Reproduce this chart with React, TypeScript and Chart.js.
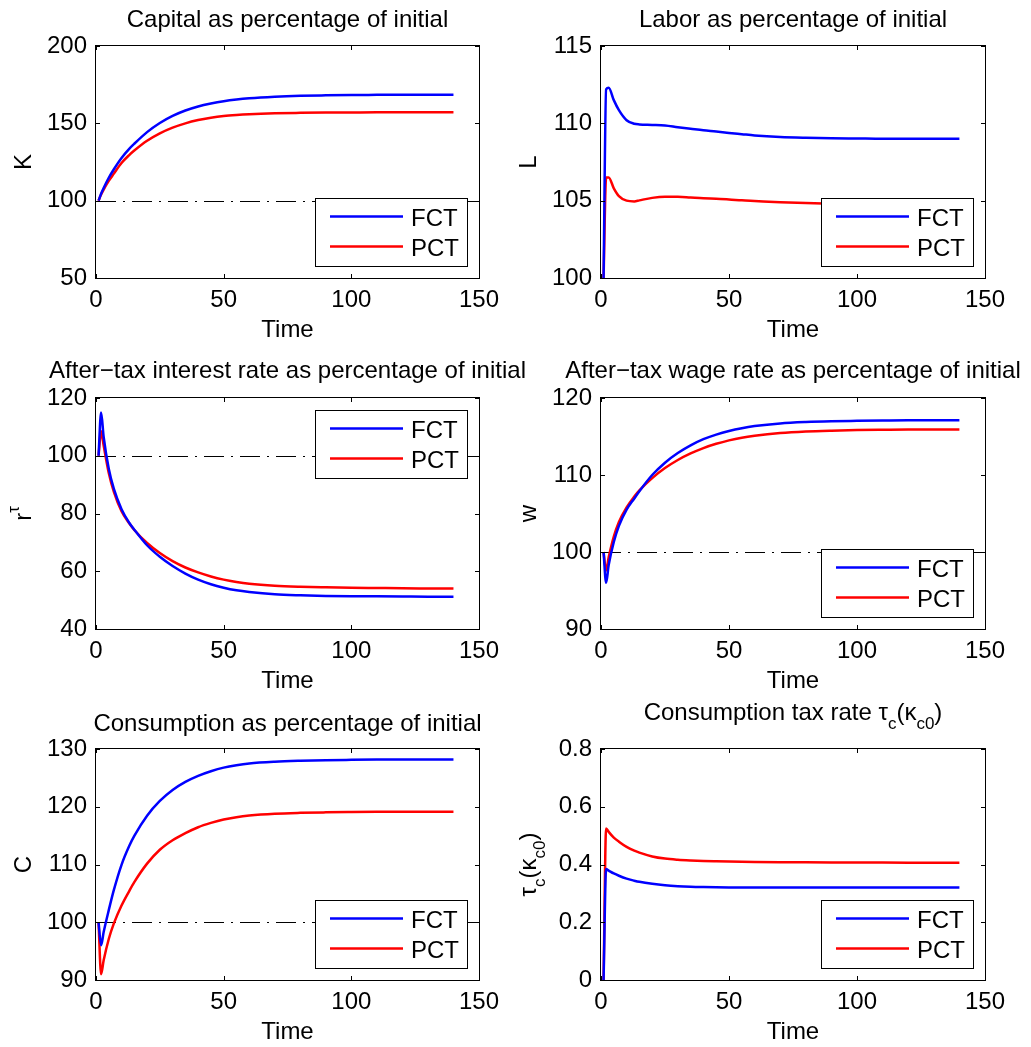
import React, { useEffect, useRef } from 'react';
import { Chart, registerables } from 'chart.js';

Chart.register(...registerables);

const FONT = '"Liberation Sans", Arial, Helvetica, sans-serif';

// ---------------- data ----------------
const TIME = [1, 2, 3, 5, 7, 10, 13, 15, 20, 25, 30, 35, 40, 45, 50, 55, 60, 70, 80, 90, 100, 110, 120, 130, 140];
const X_TICKS = [0, 50, 100, 150];
const SERIES_LABELS = ['FCT', 'PCT'];
const SERIES_COLORS = ['#0000ff', '#ff0000'];

const CAPITAL_FCT = [100, 104.5, 108.2, 114.8, 120.3, 127.6, 133.5, 136.8, 144.3, 150.2, 154.8, 158.3, 160.9, 162.8, 164.3, 165.4, 166.2, 167.2, 167.8, 168.1, 168.3, 168.4, 168.5, 168.5, 168.5];
const CAPITAL_PCT = [100, 104, 107.2, 112.8, 117.5, 124.4, 129.5, 132.4, 138.7, 143.5, 147.2, 150, 152.1, 153.6, 154.7, 155.4, 155.9, 156.5, 156.8, 157, 157.05, 157.1, 157.1, 157.1, 157.1];
const CAPITAL_TICKS = [50, 100, 150, 200];

const LABOR_FCT = [100, 112.2, 112.3, 111.5, 110.85, 110.2, 109.97, 109.93, 109.9, 109.86, 109.75, 109.65, 109.55, 109.47, 109.38, 109.3, 109.22, 109.12, 109.07, 109.04, 109.02, 109.0, 109.0, 109.0, 109.0];
const LABOR_PCT = [100, 106.5, 106.5, 105.8, 105.3, 105.0, 104.95, 105.02, 105.18, 105.25, 105.25, 105.2, 105.15, 105.12, 105.08, 105.02, 104.98, 104.9, 104.85, 104.8, 104.75, 104.72, 104.7, 104.68, 104.65];
const LABOR_TICKS = [100, 105, 110, 115];

const INTEREST_FCT = [100, 115, 106.5, 95.5, 88.5, 81.5, 76.8, 74.4, 69.0, 65.0, 61.8, 59.2, 57.1, 55.5, 54.3, 53.4, 52.8, 52.0, 51.65, 51.45, 51.35, 51.3, 51.25, 51.2, 51.2];
const INTEREST_PCT = [100, 108.5, 103.5, 94, 87.5, 80.8, 76.6, 74.3, 69.8, 66.3, 63.5, 61.3, 59.6, 58.2, 57.1, 56.3, 55.7, 55, 54.65, 54.45, 54.3, 54.2, 54.1, 54.05, 54.0];
const INTEREST_TICKS = [40, 60, 80, 100, 120];

const WAGE_FCT = [100, 96, 98.3, 101.3, 103.4, 105.5, 106.95, 107.9, 110.0, 111.6, 112.85, 113.85, 114.65, 115.25, 115.72, 116.08, 116.35, 116.7, 116.88, 116.98, 117.03, 117.07, 117.1, 117.1, 117.1];
const WAGE_PCT = [100, 97.6, 99.3, 102, 103.9, 105.8, 107.2, 108.0, 109.6, 110.9, 111.95, 112.8, 113.5, 114.05, 114.5, 114.85, 115.1, 115.45, 115.65, 115.76, 115.83, 115.87, 115.9, 115.9, 115.9];
const WAGE_TICKS = [90, 100, 110, 120];

const CONS_FCT = [100, 96, 98.3, 102.1, 105.6, 109.95, 113.2, 114.95, 118.45, 121.0, 122.9, 124.3, 125.35, 126.15, 126.78, 127.2, 127.5, 127.8, 127.96, 128.06, 128.12, 128.17, 128.2, 128.2, 128.2];
const CONS_PCT = [100, 91, 93.4, 97.1, 99.8, 102.9, 105.4, 106.95, 110.15, 112.55, 114.2, 115.42, 116.45, 117.2, 117.8, 118.2, 118.48, 118.8, 118.95, 119.03, 119.08, 119.12, 119.14, 119.15, 119.15];
const CONS_TICKS = [90, 100, 110, 120, 130];

const TAX_FCT = [0, 0.384, 0.379, 0.369, 0.361, 0.351, 0.344, 0.34, 0.333, 0.328, 0.3248, 0.3228, 0.3217, 0.321, 0.3206, 0.3204, 0.3202, 0.32, 0.32, 0.32, 0.32, 0.32, 0.32, 0.32, 0.32];
const TAX_PCT = [0, 0.525, 0.513, 0.493, 0.479, 0.461, 0.448, 0.441, 0.428, 0.4205, 0.4165, 0.414, 0.4122, 0.411, 0.41, 0.4093, 0.4088, 0.408, 0.4074, 0.407, 0.4067, 0.4065, 0.4063, 0.4061, 0.406];
const TAX_TICKS = [0, 0.2, 0.4, 0.6, 0.8];

// ---------------- layout ----------------
type Seg = { t: string; s?: 'sub' | 'sup' };
type PanelDef = {
  title: Seg[];
  ylabel: Seg[];
  fct: number[];
  pct: number[];
  yTicks: number[];
  ref: number | null;
  legendPos: 'ne' | 'se';
  col: number;
  row: number;
  titleGap: number;
};

const COLS = [
  { left: 0, width: 540, padRight: 61 },
  { left: 505, width: 526, padRight: 46 },
];
const ROWS = [
  { top: 0, height: 350, padTop: 46, xH: 72 },
  { top: 350, height: 350, padTop: 48, xH: 71 },
  { top: 700, height: 347, padTop: 49, xH: 67 },
];
const Y_AXIS_W = 96;
const MAIN = 24;
const SMALL = 17;

const PANELS: PanelDef[] = [
  { title: [{ t: 'Capital as percentage of initial' }], ylabel: [{ t: 'K' }], fct: CAPITAL_FCT, pct: CAPITAL_PCT, yTicks: CAPITAL_TICKS, ref: 100, legendPos: 'se', col: 0, row: 0, titleGap: 19.5 },
  { title: [{ t: 'Labor as percentage of initial' }], ylabel: [{ t: 'L' }], fct: LABOR_FCT, pct: LABOR_PCT, yTicks: LABOR_TICKS, ref: 100, legendPos: 'se', col: 1, row: 0, titleGap: 19.5 },
  { title: [{ t: 'After\u2212tax interest rate as percentage of initial' }], ylabel: [{ t: 'r' }, { t: '\u03c4', s: 'sup' }], fct: INTEREST_FCT, pct: INTEREST_PCT, yTicks: INTEREST_TICKS, ref: 100, legendPos: 'ne', col: 0, row: 1, titleGap: 20 },
  { title: [{ t: 'After\u2212tax wage rate as percentage of initial' }], ylabel: [{ t: 'w' }], fct: WAGE_FCT, pct: WAGE_PCT, yTicks: WAGE_TICKS, ref: 100, legendPos: 'se', col: 1, row: 1, titleGap: 20 },
  { title: [{ t: 'Consumption as percentage of initial' }], ylabel: [{ t: 'C' }], fct: CONS_FCT, pct: CONS_PCT, yTicks: CONS_TICKS, ref: 100, legendPos: 'se', col: 0, row: 2, titleGap: 18.5 },
  { title: [{ t: 'Consumption tax rate \u03c4' }, { t: 'c', s: 'sub' }, { t: '(\u03ba' }, { t: 'c0', s: 'sub' }, { t: ')' }], ylabel: [{ t: '\u03c4' }, { t: 'c', s: 'sub' }, { t: '(\u03ba' }, { t: 'c0', s: 'sub' }, { t: ')' }], fct: TAX_FCT, pct: TAX_PCT, yTicks: TAX_TICKS, ref: null, legendPos: 'se', col: 1, row: 2, titleGap: 29 },
];

function segFont(s: Seg) {
  return `${s.s ? SMALL : MAIN}px ${FONT}`;
}
function segShift(s: Seg) {
  return s.s === 'sub' ? 9 : s.s === 'sup' ? -12 : 0;
}
function richWidth(ctx: CanvasRenderingContext2D, segs: Seg[]) {
  let w = 0;
  for (const s of segs) {
    ctx.font = segFont(s);
    w += ctx.measureText(s.t).width;
  }
  return w;
}
function drawRich(ctx: CanvasRenderingContext2D, segs: Seg[], cx: number, baseline: number) {
  const w = richWidth(ctx, segs);
  let x = cx - w / 2;
  ctx.textAlign = 'left';
  ctx.textBaseline = 'alphabetic';
  ctx.fillStyle = '#000';
  for (const s of segs) {
    ctx.font = segFont(s);
    ctx.fillText(s.t, x, baseline + segShift(s));
    x += ctx.measureText(s.t).width;
  }
}

function makeDecor(p: PanelDef) {
  return {
    id: 'matlabDecor',
    beforeDatasetsDraw(chart: any) {
      if (p.ref === null) return;
      const { ctx, chartArea } = chart;
      const y = Math.round(chart.scales.y.getPixelForValue(p.ref)) + 0.5;
      ctx.save();
      ctx.strokeStyle = '#000';
      ctx.lineWidth = 1;
      ctx.setLineDash([20, 7, 2, 7]);
      ctx.beginPath();
      ctx.moveTo(chartArea.left, y);
      ctx.lineTo(chartArea.right, y);
      ctx.stroke();
      ctx.restore();
    },
    afterDraw(chart: any) {
      const { ctx, chartArea } = chart;
      const { left, right, top, bottom } = chartArea;
      ctx.save();
      // legend
      const LW = 152;
      const LH = 68;
      const lx = Math.round(right - 12 - LW);
      const ly = Math.round(p.legendPos === 'se' ? bottom - 12 - LH : top + 11.5);
      ctx.fillStyle = '#fff';
      ctx.fillRect(lx, ly, LW, LH);
      ctx.strokeStyle = '#000';
      ctx.lineWidth = 1;
      ctx.setLineDash([]);
      ctx.strokeRect(lx + 0.5, ly + 0.5, LW, LH);
      chart.data.datasets.forEach((ds: any, i: number) => {
        const yy = ly + 18.5 + 30 * i;
        ctx.strokeStyle = ds.borderColor;
        ctx.lineWidth = 2.5;
        ctx.beginPath();
        ctx.moveTo(lx + 15, yy);
        ctx.lineTo(lx + 88, yy);
        ctx.stroke();
        ctx.fillStyle = '#000';
        ctx.font = `${MAIN}px ${FONT}`;
        ctx.textAlign = 'left';
        ctx.textBaseline = 'alphabetic';
        ctx.fillText(ds.label, lx + 96, yy + 9);
      });
      // box
      ctx.strokeStyle = '#000';
      ctx.lineWidth = 1;
      ctx.strokeRect(left - 0.5, top - 0.5, right - left + 1, bottom - top + 1);
      // inward ticks on all four sides
      const TL = 4;
      ctx.beginPath();
      chart.scales.x.ticks.forEach((t: any) => {
        const px = Math.round(chart.scales.x.getPixelForValue(t.value)) + 0.5;
        ctx.moveTo(px, bottom);
        ctx.lineTo(px, bottom - TL);
        ctx.moveTo(px, top);
        ctx.lineTo(px, top + TL);
      });
      chart.scales.y.ticks.forEach((t: any) => {
        const py = Math.round(chart.scales.y.getPixelForValue(t.value)) + 0.5;
        ctx.moveTo(left, py);
        ctx.lineTo(left + TL, py);
        ctx.moveTo(right, py);
        ctx.lineTo(right - TL, py);
      });
      ctx.stroke();
      // title
      drawRich(ctx, p.title, (left + right) / 2, top - p.titleGap);
      // x label
      drawRich(ctx, [{ t: 'Time' }], (left + right) / 2, bottom + 58.5);
      // y label (rotated)
      ctx.translate(left - 65, (top + bottom) / 2);
      ctx.rotate(-Math.PI / 2);
      drawRich(ctx, p.ylabel, 0, 0);
      ctx.restore();
    },
  };
}

function PanelChart({ p }: { p: PanelDef }) {
  const ref = useRef<HTMLCanvasElement | null>(null);
  const col = COLS[p.col];
  const row = ROWS[p.row];
  useEffect(() => {
    if (!ref.current) return;
    const series = [p.fct, p.pct];
    const chart = new Chart(ref.current, {
      type: 'line',
      data: {
        datasets: series.map((vals, si) => ({
          label: SERIES_LABELS[si],
          data: TIME.map((t, i) => ({ x: t, y: vals[i] })),
          borderColor: SERIES_COLORS[si],
          backgroundColor: SERIES_COLORS[si],
          borderWidth: 2.5,
          pointRadius: 0,
          fill: false,
          cubicInterpolationMode: 'monotone' as const,
        })),
      },
      options: {
        responsive: false,
        animation: false,
        events: [],
        layout: { padding: { top: row.padTop, right: col.padRight, left: 0, bottom: 0 } },
        plugins: { legend: { display: false }, tooltip: { enabled: false }, title: { display: false } },
        scales: {
          x: {
            type: 'linear',
            min: X_TICKS[0],
            max: X_TICKS[X_TICKS.length - 1],
            afterBuildTicks: (s: any) => {
              s.ticks = X_TICKS.map((v) => ({ value: v }));
            },
            afterFit: (s: any) => {
              s.height = row.xH;
            },
            grid: { display: false, drawTicks: false },
            border: { display: false },
            ticks: { padding: 8, color: '#000', font: { size: MAIN, family: FONT }, maxRotation: 0, autoSkip: false },
          },
          y: {
            type: 'linear',
            min: p.yTicks[0],
            max: p.yTicks[p.yTicks.length - 1],
            afterBuildTicks: (s: any) => {
              s.ticks = p.yTicks.map((v) => ({ value: v }));
            },
            afterFit: (s: any) => {
              s.width = Y_AXIS_W;
            },
            grid: { display: false, drawTicks: false },
            border: { display: false },
            ticks: { padding: 9, color: '#000', font: { size: MAIN, family: FONT }, autoSkip: false },
          },
        },
      } as any,
      plugins: [makeDecor(p)],
    });
    return () => chart.destroy();
  }, [p]);
  return (
    <canvas
      ref={ref}
      width={col.width}
      height={row.height}
      style={{ position: 'absolute', left: col.left, top: row.top, width: col.width, height: row.height }}
    />
  );
}

export default function App() {
  return (
    <div style={{ position: 'absolute', left: 0, top: 0, width: 1031, height: 1047, background: '#fff', overflow: 'hidden' }}>
      {PANELS.map((p, i) => (
        <PanelChart key={i} p={p} />
      ))}
    </div>
  );
}
